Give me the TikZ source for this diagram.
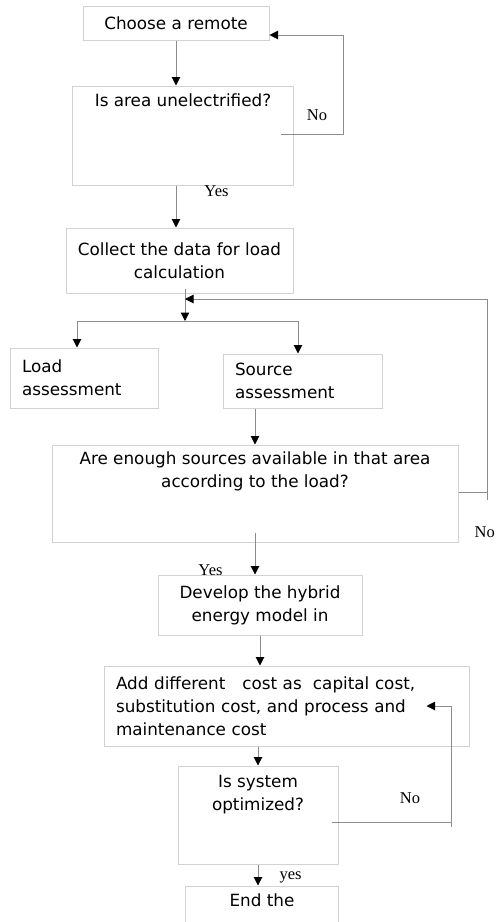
\documentclass[tikz,border=0pt]{standalone}
\usepackage{fontspec}
\setmainfont{DejaVu Sans}
\newfontfamily\yesno{Liberation Serif}
\usetikzlibrary{arrows.meta}
\usetikzlibrary{calc}
\definecolor{boxgray}{RGB}{210,210,210}
\definecolor{linegray}{RGB}{140,140,140}

\begin{document}
\begin{tikzpicture}[x=1pt,y=-1pt,font=\fontsize{16.8}{23}\selectfont,
  box/.style={draw=boxgray,line width=1pt,fill=white,inner sep=0pt},
  txt/.style={inner sep=0pt,align=center},
  ann/.style={inner sep=0pt,font=\yesno\fontsize{16.5}{18}\selectfont},
  flow/.style={draw=linegray,line width=1pt,-{Triangle[length=8.5pt,width=8.5pt,color=black]}},
  wire/.style={draw=linegray,line width=1pt}]
  \useasboundingbox (0,0) rectangle (496,922);

  \node[box,minimum width=186,minimum height=34] (remote) at (176,23) {Choose a remote};
  \node[box,minimum width=221,minimum height=99] (area) at (182.5,135.5) {};
  \node[txt,anchor=north] (areaT) at (183,94) {Is area unelectrified?};
  \node[box,minimum width=227,minimum height=65,align=center] (collect) at (179.5,260.5) {Collect the data for load\\calculation};

  \node[box,minimum width=148,minimum height=60,text width=124,align=left] (load) at (84,378) {Load\\assessment};
  \node[box,minimum width=159,minimum height=54,text width=135,align=left] (source) at (302.5,381) {Source\\assessment};

  \node[box,minimum width=406,minimum height=97] (enough) at (255,493.5) {};
  \node[txt,anchor=north] (enoughT) at (255,452) {Are enough sources available in that area\\according to the load?};

  \node[ann] (yes2) at (210.5,570) {Yes};
  \node[box,minimum width=204,minimum height=60,align=center] (develop) at (260,605) {Develop the hybrid\\energy model in};
  \node[box,minimum width=365,minimum height=80,text width=341,align=left] (add) at (286.5,706) {Add different\ \ \ cost as\ \ capital cost,\\substitution cost, and process and\\maintenance cost};
  \node[box,minimum width=160,minimum height=98] (optim) at (258,815) {};
  \node[txt,anchor=north] (optimT) at (258,775) {Is system\\optimized?};
  \node[box,minimum width=153,minimum height=60] (finish) at (261.5,916) {};
  \node[txt,anchor=north] (finishT) at (262,894) {End the};

  \node[ann] (no1) at (317,115) {No};
  \node[ann] (yes1) at (216.5,191.5) {Yes};
  \node[ann,anchor=east] (no2) at (495,532) {No};
  \node[ann] (no3) at (410,798) {No};
  \node[ann] (yes3) at (290.5,877) {yes};

  \coordinate (split) at (185,321);
  \coordinate (splitL) at (77,321);
  \coordinate (splitR) at (298,321);
  \coordinate (back) at (487,500);
  \coordinate (backin) at (185,299);
  \coordinate (redo) at (451,822);

  \draw[flow] (remote.south) -- (remote.south |- area.north);
  \draw[flow] ($(area.east)+(-13,-1)$) -- ++(63,0) |- ($(remote.east)+(0,12)$);
  \draw[flow] (area.south -| remote.south) -- (collect.north -| remote.south);
  \draw[flow] ($(collect.south -| split)+(0,-5)$) -- (split);
  \draw[wire] (splitL) -- (splitR);
  \draw[flow] (splitL) -- (splitL |- load.north);
  \draw[flow] (splitR) -- (splitR |- source.north);
  \draw[wire] ($(enough.east)+(0,-1.5)$) -- ($(enough.east -| back)+(0,-1.5)$);
  \draw[flow] (back) |- (backin);
  \draw[flow] (source.south -| enough.north) -- (enough.north);
  \draw[flow] ($(enough.south)+(0,-10)$) -- (enough.south |- develop.north);
  \draw[flow] (develop.south) -- (develop.south |- add.north);
  \draw[flow] (optim.north |- add.south) -- (optim.north);
  \draw[wire] ($(optim.east)+(-7,7)$) -- (redo);
  \draw[flow] ($(redo)+(0,5)$) |- ($(add.east)+(-43,0)$);
  \draw[flow] (optim.south) -- (optim.south |- finish.north);
\end{tikzpicture}
\end{document}
